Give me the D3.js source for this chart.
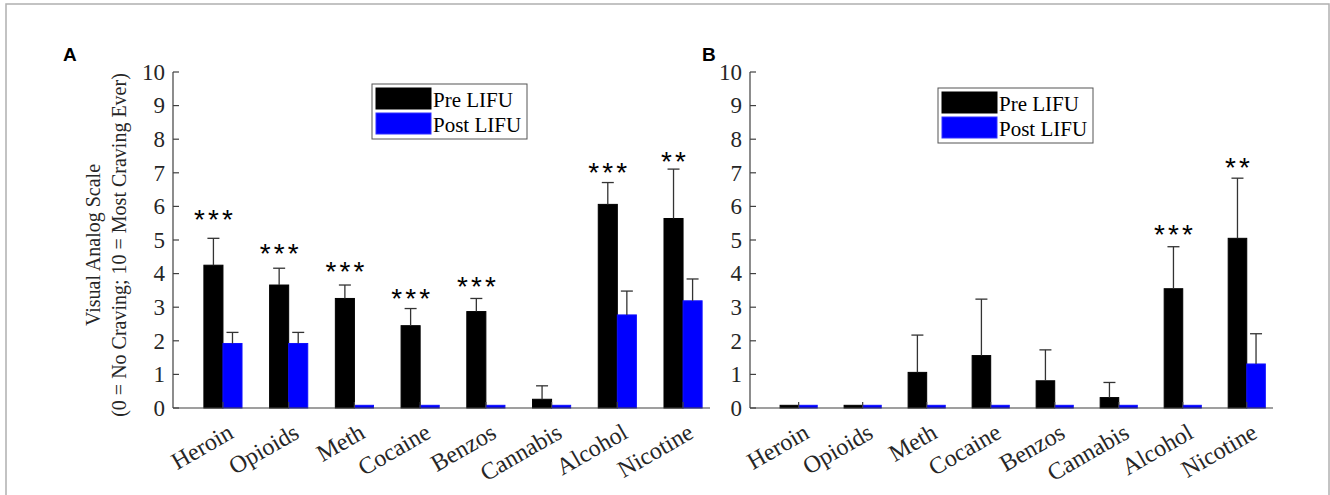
<!DOCTYPE html>
<html>
<head>
<meta charset="utf-8">
<title>LIFU craving</title>
<script src="https://cdn.jsdelivr.net/npm/d3@7"></script>
<style>
body { margin:0; background:#fff; }
text { font-family:"Liberation Serif","Times New Roman",serif; fill:#262626; }
</style>
</head>
<body>
<script>
// substances on the x axis
var categories = ["Heroin", "Opioids", "Meth", "Cocaine", "Benzos", "Cannabis", "Alcohol", "Nicotine"];
var yTicks = [0, 1, 2, 3, 4, 5, 6, 7, 8, 9, 10];

// panel A
var preA     = [4.25, 3.66, 3.26, 2.45, 2.87, 0.26, 6.06, 5.64];
var preASem  = [0.80, 0.50, 0.40, 0.51, 0.39, 0.40, 0.65, 1.47];
var postA    = [1.92, 1.92, 0.08, 0.08, 0.08, 0.08, 2.77, 3.19];
var postASem = [0.33, 0.33, 0, 0, 0, 0, 0.71, 0.65];
var sigA     = ["***", "***", "***", "***", "***", "", "***", "**"];
var sigAY    = [5.8, 4.79, 4.26, 3.46, 3.81, 0, 7.2, 7.53];

// panel B
var preB     = [0.08, 0.08, 1.06, 1.56, 0.81, 0.31, 3.55, 5.05];
var preBSem  = [0, 0, 1.11, 1.68, 0.92, 0.45, 1.25, 1.79];
var postB    = [0.08, 0.08, 0.08, 0.08, 0.08, 0.08, 0.08, 1.31];
var postBSem = [0, 0, 0, 0, 0, 0, 0, 0.90];
var sigB     = ["", "", "", "", "", "", "***", "**"];
var sigBY    = [0, 0, 0, 0, 0, 0, 5.36, 7.35];

var seriesNames = ["Pre LIFU", "Post LIFU"];
var colors = ["#000000", "#0000ff"];

var width = 1330, height = 495;
var svg = d3.select("body").append("svg")
    .attr("width", width)
    .attr("height", height);

// outer frame
svg.append("rect")
    .attr("x", 6).attr("y", 4)
    .attr("width", 1323).attr("height", 520)
    .attr("fill", "none")
    .attr("stroke", "#b0b0b0")
    .attr("stroke-width", 1.5);

var y = d3.scaleLinear().domain([0, 10]).range([408, 72]);
var barW = 0.29; // in x units

function panel(opt) {
    var x = d3.scaleLinear().domain([0.24, 8.41]).range([opt.x0, opt.x1]);
    var g = svg.append("g");

    // bars
    var series = [opt.pre, opt.post];
    var sems = [opt.preSem, opt.postSem];
    series.forEach(function(vals, s) {
        g.selectAll(null).data(vals).enter().append("rect")
            .attr("x", function(d, i) { return s == 0 ? x(i + 1 - barW) : x(i + 1); })
            .attr("y", function(d) { return y(d); })
            .attr("width", x(1 + barW) - x(1))
            .attr("height", function(d) { return y(0) - y(d); })
            .attr("fill", colors[s])
            .attr("stroke", s == 0 ? "#000" : "#1010ff")
            .attr("stroke-width", 1);
    });

    // error bars, upper half only
    series.forEach(function(vals, s) {
        vals.forEach(function(v, i) {
            var e = sems[s][i];
            if (!(e > 0)) return;
            var cx = x(i + 1 + (s == 0 ? -barW / 2 : barW / 2));
            g.append("line")
                .attr("x1", cx).attr("x2", cx)
                .attr("y1", y(v)).attr("y2", y(v + e))
                .attr("stroke", "#333").attr("stroke-width", 1.3);
            g.append("line")
                .attr("x1", cx - 6).attr("x2", cx + 6)
                .attr("y1", y(v + e)).attr("y2", y(v + e))
                .attr("stroke", "#333").attr("stroke-width", 1.3);
        });
    });

    // significance stars above pre bars
    opt.sig.forEach(function(str, i) {
        if (!str) return;
        var cx = x(i + 1 - barW / 2);
        var n = str.length;
        for (var k = 0; k < n; k++) {
            g.append("text")
                .attr("x", cx + (k - (n - 1) / 2) * 14)
                .attr("y", y(opt.sigY[i]) + 16)
                .attr("text-anchor", "middle")
                .style("font-family", "'Liberation Sans', Arial, sans-serif")
                .style("font-size", "28px")
                .style("fill", "#000")
                .text("*");
        }
    });

    // axes
    g.append("line")
        .attr("x1", opt.x0).attr("x2", opt.x1)
        .attr("y1", y(0)).attr("y2", y(0))
        .attr("stroke", "#404040").attr("stroke-width", 1.2);
    g.append("line")
        .attr("x1", opt.x0).attr("x2", opt.x0)
        .attr("y1", y(0)).attr("y2", y(10))
        .attr("stroke", "#404040").attr("stroke-width", 1.2);

    g.selectAll(null).data(yTicks).enter().append("line")
        .attr("x1", opt.x0).attr("x2", opt.x0 + 6)
        .attr("y1", function(d) { return y(d); })
        .attr("y2", function(d) { return y(d); })
        .attr("stroke", "#404040").attr("stroke-width", 1.2);
    g.selectAll(null).data(yTicks).enter().append("text")
        .attr("x", opt.x0 - 8)
        .attr("y", function(d) { return y(d); })
        .attr("dy", "0.34em")
        .attr("text-anchor", "end")
        .style("font-size", "23px")
        .text(function(d) { return d; });

    // x ticks (inside, mostly hidden by bars)
    g.selectAll(null).data(categories).enter().append("line")
        .attr("x1", function(d, i) { return x(i + 1); })
        .attr("x2", function(d, i) { return x(i + 1); })
        .attr("y1", y(0)).attr("y2", y(0) - 6)
        .attr("stroke", "#404040").attr("stroke-width", 1.2);

    g.selectAll(null).data(categories).enter().append("text")
        .attr("transform", function(d, i) {
            return "translate(" + (x(i + 1) + 12) + ",437) rotate(-30)";
        })
        .attr("text-anchor", "end")
        .style("font-size", "24px")
        .text(function(d) { return d; });

    // legend
    var lg = g.append("g").attr("transform", "translate(" + opt.lx + "," + opt.ly + ")");
    lg.append("rect")
        .attr("width", 155).attr("height", 55)
        .attr("fill", "#fff")
        .attr("stroke", "#555").attr("stroke-width", 1);
    seriesNames.forEach(function(name, s) {
        lg.append("rect")
            .attr("x", 4).attr("y", 4 + s * 25)
            .attr("width", 55).attr("height", 21)
            .attr("fill", colors[s])
            .attr("stroke", s == 0 ? "#000" : "#3030ff");
        lg.append("text")
            .attr("x", 61).attr("y", 23 + s * 25)
            .style("font-size", "21px")
            .style("fill", "#000")
            .text(name);
    });

    // panel letter
    svg.append("text")
        .attr("x", opt.letterX).attr("y", 61)
        .style("font-family", "'Liberation Sans', Arial, sans-serif")
        .style("font-weight", "bold")
        .style("font-size", "19px")
        .style("fill", "#000")
        .text(opt.letter);
}

panel({ x0: 173, x1: 710, pre: preA, preSem: preASem, post: postA, postSem: postASem,
        sig: sigA, sigY: sigAY, lx: 372, ly: 84, letter: "A", letterX: 63 });
panel({ x0: 750, x1: 1273, pre: preB, preSem: preBSem, post: postB, postSem: postBSem,
        sig: sigB, sigY: sigBY, lx: 938, ly: 88, letter: "B", letterX: 702 });

// y axis title, panel A
var yl = svg.append("g").attr("transform", "translate(100,245) rotate(-90)");
yl.append("text")
    .attr("text-anchor", "middle")
    .style("font-size", "20px")
    .text("Visual Analog Scale");
yl.append("text")
    .attr("y", 26)
    .attr("text-anchor", "middle")
    .style("font-size", "20px")
    .text("(0 = No Craving; 10 = Most Craving Ever)");
</script>
</body>
</html>
